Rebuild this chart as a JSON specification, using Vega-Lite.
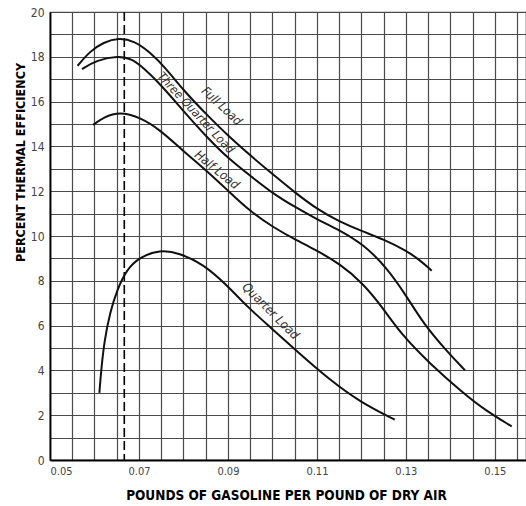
{
  "$schema": "https://vega.github.io/schema/vega-lite/v6.json",
  "autosize": {"type": "none"},
  "padding": {"left": 50, "top": 12, "right": 0, "bottom": 46},
  "width": 476,
  "height": 448,
  "background": "white",
  "config": {
    "view": {"stroke": "#444", "strokeWidth": 1.2},
    "font": "DejaVu Sans Condensed, Liberation Sans Narrow, sans-serif"
  },
  "datasets": {
    "curves": [
      {"load": "Full", "ratio": 0.0562, "eff": 17.6},
      {"load": "Full", "ratio": 0.0590, "eff": 18.25},
      {"load": "Full", "ratio": 0.0620, "eff": 18.65},
      {"load": "Full", "ratio": 0.0655, "eff": 18.85},
      {"load": "Full", "ratio": 0.0690, "eff": 18.7},
      {"load": "Full", "ratio": 0.0725, "eff": 18.2},
      {"load": "Full", "ratio": 0.0760, "eff": 17.5},
      {"load": "Full", "ratio": 0.0800, "eff": 16.5},
      {"load": "Full", "ratio": 0.0853, "eff": 15.4},
      {"load": "Full", "ratio": 0.0904, "eff": 14.4},
      {"load": "Full", "ratio": 0.0956, "eff": 13.5},
      {"load": "Full", "ratio": 0.1001, "eff": 12.75},
      {"load": "Full", "ratio": 0.1050, "eff": 11.95},
      {"load": "Full", "ratio": 0.1100, "eff": 11.2},
      {"load": "Full", "ratio": 0.1150, "eff": 10.65},
      {"load": "Full", "ratio": 0.1203, "eff": 10.2},
      {"load": "Full", "ratio": 0.1250, "eff": 9.85},
      {"load": "Full", "ratio": 0.1300, "eff": 9.35},
      {"load": "Full", "ratio": 0.1330, "eff": 8.95},
      {"load": "Full", "ratio": 0.1358, "eff": 8.45},
      {"load": "ThreeQuarter", "ratio": 0.0572, "eff": 17.45},
      {"load": "ThreeQuarter", "ratio": 0.0605, "eff": 17.85},
      {"load": "ThreeQuarter", "ratio": 0.0653, "eff": 18.05},
      {"load": "ThreeQuarter", "ratio": 0.0685, "eff": 17.9},
      {"load": "ThreeQuarter", "ratio": 0.0710, "eff": 17.5},
      {"load": "ThreeQuarter", "ratio": 0.0747, "eff": 16.8},
      {"load": "ThreeQuarter", "ratio": 0.0799, "eff": 15.6},
      {"load": "ThreeQuarter", "ratio": 0.0853, "eff": 14.4},
      {"load": "ThreeQuarter", "ratio": 0.0904, "eff": 13.4},
      {"load": "ThreeQuarter", "ratio": 0.0956, "eff": 12.6},
      {"load": "ThreeQuarter", "ratio": 0.1001, "eff": 11.9},
      {"load": "ThreeQuarter", "ratio": 0.1050, "eff": 11.3},
      {"load": "ThreeQuarter", "ratio": 0.1100, "eff": 10.75},
      {"load": "ThreeQuarter", "ratio": 0.1152, "eff": 10.25},
      {"load": "ThreeQuarter", "ratio": 0.1203, "eff": 9.65},
      {"load": "ThreeQuarter", "ratio": 0.1257, "eff": 8.6},
      {"load": "ThreeQuarter", "ratio": 0.1302, "eff": 7.3},
      {"load": "ThreeQuarter", "ratio": 0.1339, "eff": 6.1},
      {"load": "ThreeQuarter", "ratio": 0.1390, "eff": 4.9},
      {"load": "ThreeQuarter", "ratio": 0.1433, "eff": 4.0},
      {"load": "Half", "ratio": 0.0597, "eff": 14.96},
      {"load": "Half", "ratio": 0.0620, "eff": 15.3},
      {"load": "Half", "ratio": 0.0657, "eff": 15.55},
      {"load": "Half", "ratio": 0.0702, "eff": 15.3},
      {"load": "Half", "ratio": 0.0747, "eff": 14.75},
      {"load": "Half", "ratio": 0.0799, "eff": 13.8},
      {"load": "Half", "ratio": 0.0853, "eff": 12.9},
      {"load": "Half", "ratio": 0.0904, "eff": 11.95},
      {"load": "Half", "ratio": 0.0950, "eff": 11.1},
      {"load": "Half", "ratio": 0.1001, "eff": 10.4},
      {"load": "Half", "ratio": 0.1050, "eff": 9.85},
      {"load": "Half", "ratio": 0.1100, "eff": 9.35},
      {"load": "Half", "ratio": 0.1152, "eff": 8.75},
      {"load": "Half", "ratio": 0.1203, "eff": 7.9},
      {"load": "Half", "ratio": 0.1248, "eff": 6.8},
      {"load": "Half", "ratio": 0.1290, "eff": 5.6},
      {"load": "Half", "ratio": 0.1354, "eff": 4.3},
      {"load": "Half", "ratio": 0.1428, "eff": 3.0},
      {"load": "Half", "ratio": 0.1480, "eff": 2.2},
      {"load": "Half", "ratio": 0.1538, "eff": 1.5},
      {"load": "Quarter", "ratio": 0.0611, "eff": 3.0},
      {"load": "Quarter", "ratio": 0.0615, "eff": 4.0},
      {"load": "Quarter", "ratio": 0.0622, "eff": 5.3},
      {"load": "Quarter", "ratio": 0.0635, "eff": 6.6},
      {"load": "Quarter", "ratio": 0.0651, "eff": 7.6},
      {"load": "Quarter", "ratio": 0.0672, "eff": 8.5},
      {"load": "Quarter", "ratio": 0.0702, "eff": 9.06},
      {"load": "Quarter", "ratio": 0.0747, "eff": 9.38},
      {"load": "Quarter", "ratio": 0.0790, "eff": 9.25},
      {"load": "Quarter", "ratio": 0.0844, "eff": 8.75},
      {"load": "Quarter", "ratio": 0.0898, "eff": 7.8},
      {"load": "Quarter", "ratio": 0.0943, "eff": 6.85},
      {"load": "Quarter", "ratio": 0.0994, "eff": 5.95},
      {"load": "Quarter", "ratio": 0.1055, "eff": 4.85},
      {"load": "Quarter", "ratio": 0.1129, "eff": 3.57},
      {"load": "Quarter", "ratio": 0.1200, "eff": 2.55},
      {"load": "Quarter", "ratio": 0.1275, "eff": 1.8}
    ],
    "labels": [
      {"text": "Full Load", "ratio": 0.0886, "eff": 15.8},
      {"text": "Three Quarter Load", "ratio": 0.0828, "eff": 15.5},
      {"text": "Half Load", "ratio": 0.0875, "eff": 12.95},
      {"text": "Quarter Load", "ratio": 0.0996, "eff": 6.65}
    ],
    "marker": [{"ratio": 0.0667}]
  },
  "encoding": {
    "x": {
      "field": "ratio",
      "type": "quantitative",
      "scale": {"domain": [0.05, 0.157], "nice": false, "zero": false},
      "axis": {
        "title": "POUNDS OF GASOLINE PER POUND OF DRY AIR",
        "titleFont": "DejaVu Sans Condensed, Liberation Sans Narrow, sans-serif",
        "titleFontWeight": "bold",
        "titleFontSize": 13.5,
        "titleColor": "#000",
        "titleX": 236,
        "titleY": 35,
        "titleBaseline": "middle",
        "values": [0.05, 0.055, 0.06, 0.065, 0.07, 0.075, 0.08, 0.085, 0.09, 0.095, 0.1, 0.105, 0.11, 0.115, 0.12, 0.125, 0.13, 0.135, 0.14, 0.145, 0.15, 0.155],
        "labelExpr": "round(datum.value*1000) % 20 == 10 ? format(datum.value, '.2f') : ''",
        "labelFontSize": 11,
        "labelColor": "#444",
        "labelPadding": 5,
        "ticks": false,
        "grid": true,
        "gridColor": "#4a4a4a",
        "gridWidth": 1.2,
        "gridOpacity": 1,
        "domainColor": "#000",
        "domainWidth": 2.2
      }
    },
    "y": {
      "field": "eff",
      "type": "quantitative",
      "scale": {"domain": [0, 20], "nice": false},
      "axis": {
        "title": "PERCENT THERMAL EFFICIENCY",
        "titleFont": "DejaVu Sans Condensed, Liberation Sans Narrow, sans-serif",
        "titleFontWeight": "bold",
        "titleFontSize": 12.5,
        "titleColor": "#000",
        "titleAngle": -90,
        "titleX": -30,
        "titleY": 150,
        "titleAlign": "center",
        "titleBaseline": "middle",
        "values": [0, 1, 2, 3, 4, 5, 6, 7, 8, 9, 10, 11, 12, 13, 14, 15, 16, 17, 18, 19, 20],
        "labelExpr": "datum.value % 2 == 0 ? datum.value : ''",
        "labelFontSize": 12,
        "labelColor": "#444",
        "labelPadding": 6,
        "ticks": false,
        "grid": true,
        "gridColor": "#4a4a4a",
        "gridWidth": 1.2,
        "gridOpacity": 1,
        "domainColor": "#000",
        "domainWidth": 1.8
      }
    }
  },
  "layer": [
    {
      "data": {"name": "marker"},
      "mark": {"type": "rule", "color": "#000", "strokeWidth": 1.6, "strokeDash": [9, 4]},
      "encoding": {"x": {"field": "ratio", "type": "quantitative"}, "y": null}
    },
    {
      "data": {"name": "curves"},
      "mark": {"type": "line", "color": "#111", "strokeWidth": 2, "interpolate": "basis"},
      "encoding": {"detail": {"field": "load", "type": "nominal"}}
    },
    {
      "data": {"name": "labels"},
      "transform": [{"filter": "datum.text == 'Full Load'"}],
      "mark": {"type": "text", "angle": 43, "fontSize": 12.5, "fontStyle": "italic", "color": "#333", "font": "DejaVu Sans Condensed, sans-serif"},
      "encoding": {"text": {"field": "text"}}
    },
    {
      "data": {"name": "labels"},
      "transform": [{"filter": "datum.text == 'Three Quarter Load'"}],
      "mark": {"type": "text", "angle": 47, "fontSize": 12, "fontStyle": "italic", "color": "#333", "font": "DejaVu Sans Condensed, sans-serif"},
      "encoding": {"text": {"field": "text"}}
    },
    {
      "data": {"name": "labels"},
      "transform": [{"filter": "datum.text == 'Half Load'"}],
      "mark": {"type": "text", "angle": 39, "fontSize": 12.5, "fontStyle": "italic", "color": "#333", "font": "DejaVu Sans Condensed, sans-serif"},
      "encoding": {"text": {"field": "text"}}
    },
    {
      "data": {"name": "labels"},
      "transform": [{"filter": "datum.text == 'Quarter Load'"}],
      "mark": {"type": "text", "angle": 45, "fontSize": 12.5, "fontStyle": "italic", "color": "#333", "font": "DejaVu Sans Condensed, sans-serif"},
      "encoding": {"text": {"field": "text"}}
    }
  ]
}
